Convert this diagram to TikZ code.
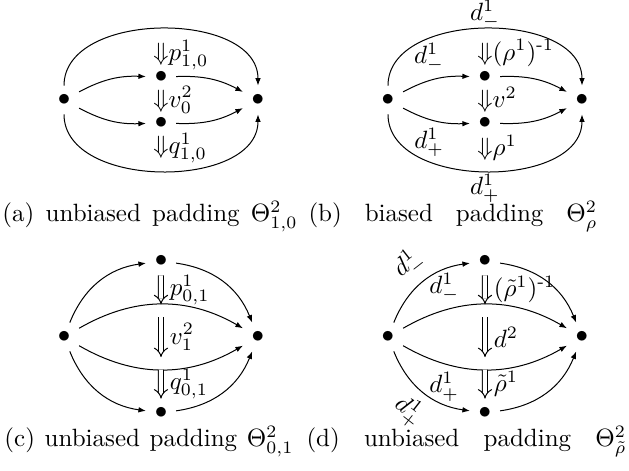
\documentclass[tikz,border=0pt]{standalone}
\usepackage{amsmath}
\usepackage{amssymb}
\usetikzlibrary{arrows.meta}

\begin{document}
\begin{tikzpicture}[
    x=0.4pt, y=0.4pt,
    dot/.style={inner sep=0.333em},
    arrow/.style={-{Latex[length=3pt]}},
    twocell/.style={double, double distance=1.6pt, -{Implies}},
    cell/.style={inner sep=0pt},
    subcap/.style={anchor=base west, inner sep=0pt}
]
    \useasboundingbox (0,0) rectangle (629,471);

    % (a) unbiased padding
    \node[dot] (al) at (64,371) {$\bullet$};
    \node[dot] (at) at (161,394) {$\bullet$};
    \node[dot] (ab) at (161,348) {$\bullet$};
    \node[dot] (ar) at (258,371) {$\bullet$};
    \draw[arrow] (al) to[bend left=90] (ar);
    \draw[arrow] (al) to[bend left=15] (at);
    \draw[arrow] (at) to[bend left=15] (ar);
    \draw[arrow] (al) to[bend right=15] (ab);
    \draw[arrow] (ab) to[bend right=15] (ar);
    \draw[arrow] (al) to[bend right=90] (ar);
    \node[cell] (ap) at (161,416) {${\Downarrow}\rlap{$p^1_{1,0}$}$};
    \node[cell] (av) at (161,371) {${\Downarrow}\rlap{$v^2_0$}$};
    \node[cell] (aq) at (161,323) {${\Downarrow}\rlap{$q^1_{1,0}$}$};

    % (b) biased padding
    \node[dot] (bl) at (388,371) {$\bullet$};
    \node[dot] (bt) at (485,394) {$\bullet$};
    \node[dot] (bb) at (485,348) {$\bullet$};
    \node[dot] (br) at (582,371) {$\bullet$};
    \draw[arrow] (bl) to[bend left=90] node[above, inner sep=0pt] {$d^1_-$} (br);
    \draw[arrow] (bl) to[bend left=15] node[above, pos=0.4] {$d^1_-$} (bt);
    \draw[arrow] (bt) to[bend left=15] (br);
    \draw[arrow] (bl) to[bend right=15] node[below, pos=0.4] {$d^1_+$} (bb);
    \draw[arrow] (bb) to[bend right=15] (br);
    \draw[arrow] (bl) to[bend right=90] node[below, inner sep=1pt] {$d^1_+$} (br);
    \node[cell] (bp) at (485,418) {${\Downarrow}\rlap{$(\rho^1)^{\text{-}1}$}$};
    \node[cell] (bv) at (485,371) {${\Downarrow}\rlap{$v^2$}$};
    \node[cell] (bq) at (485,323) {${\Downarrow}\rlap{$\rho^1$}$};

    % (c) unbiased padding
    \node[dot] (cl) at (64,134) {$\bullet$};
    \node[dot] (ct) at (161,210) {$\bullet$};
    \node[dot] (cb) at (161,58) {$\bullet$};
    \node[dot] (cr) at (258,134) {$\bullet$};
    \draw[arrow] (cl) to[bend left=30] (ct);
    \draw[arrow] (ct) to[bend left=30] (cr);
    \draw[arrow] (cl) to[bend left=30] coordinate[pos=0.5] (cu) (cr);
    \draw[arrow] (cl) to[bend right=30] coordinate[pos=0.5] (cd) (cr);
    \draw[arrow] (cl) to[bend right=30] (cb);
    \draw[arrow] (cb) to[bend right=30] (cr);
    \draw[twocell] (ct) -- node[right] {$p^1_{0,1}$} (cu);
    \draw[twocell, shorten <=5pt, shorten >=5pt] (cu) -- node[right] {$v^2_1$} (cd);
    \draw[twocell] (cd) -- node[right] {$q^1_{0,1}$} (cb);

    % (d) unbiased padding, rho tilde
    \node[dot] (dl) at (388,134) {$\bullet$};
    \node[dot] (dt) at (485,210) {$\bullet$};
    \node[dot] (db) at (485,58) {$\bullet$};
    \node[dot] (dr) at (582,134) {$\bullet$};
    \draw[arrow] (dl) to[bend left=30] node[above, sloped] {$d^1_-$} (dt);
    \draw[arrow] (dt) to[bend left=30] (dr);
    \draw[arrow] (dl) to[bend left=30] node[above, pos=0.25] {$d^1_-$} coordinate[pos=0.5] (du) (dr);
    \draw[arrow] (dl) to[bend right=30] node[below, pos=0.25] {$d^1_+$} coordinate[pos=0.5] (dd) (dr);
    \draw[arrow] (dl) to[bend right=30] node[below, sloped] {$d^1_+$} (db);
    \draw[arrow] (db) to[bend right=30] (dr);
    \draw[twocell] (dt) -- node[right] {$(\tilde\rho^1)^{\text{-}1}$} (du);
    \draw[twocell, shorten <=5pt, shorten >=5pt] (du) -- node[right] {$d^2$} (dd);
    \draw[twocell] (dd) -- node[right] {$\tilde\rho^1$} (db);

    % Captions
    \node[subcap] (capa) at (2,249) {\makebox[118pt][s]{(a) unbiased padding $\Theta^2_{1,0}$}};
    \node[subcap] (capb) at (308,249) {\makebox[115.6pt][s]{(b) biased padding $\Theta^2_\rho$}};
    \node[subcap] (capc) at (4,24) {\makebox[115.6pt][s]{(c) unbiased padding $\Theta^2_{0,1}$}};
    \node[subcap] (capd) at (306,24) {\makebox[128pt][s]{(d) unbiased padding $\Theta^2_{\tilde\rho}$}};
\end{tikzpicture}
\end{document}
